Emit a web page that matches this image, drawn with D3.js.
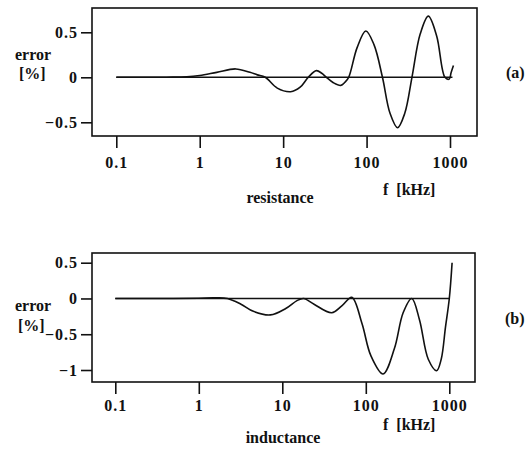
<!DOCTYPE html>
<html>
<head>
<meta charset="utf-8">
<script src="https://cdn.jsdelivr.net/npm/d3@7"></script>
<style>
  body { margin: 0; background: #fff; }
</style>
</head>
<body>
<svg id="chart" width="527" height="456"></svg>
<script>
// frequency ticks (kHz)
let freqTicks = [0.1, 1, 10, 100, 1000]

// resistance error [%] vs f [kHz]
let resFreq = [0.1, 0.4, 0.7, 1, 1.6, 2.7, 4, 4.9, 6.1, 8.5, 12.3, 16, 20, 25, 29, 33, 40, 49, 55, 61,
    77, 98, 123, 155, 191, 235, 287, 350, 439, 550, 692, 870, 980, 1030, 1100]
let resErr = [0, 0.001, 0.005, 0.02, 0.055, 0.093, 0.055, 0.027, 0, -0.12, -0.16, -0.11, 0, 0.074, 0.045, 0, -0.06, -0.09, -0.055, 0,
    0.33, 0.515, 0.36, 0, -0.4, -0.56, -0.4, 0, 0.48, 0.68, 0.46, 0.0, -0.02, 0.05, 0.13]
let resTicks = [0.5, 0, -0.5]
let resZero = [0.1, 1070]

// inductance error [%] vs f [kHz]
let indFreq = [0.1, 0.5, 1, 1.5, 2.2, 3.2, 4.5, 7.2, 11, 15, 18, 24, 39, 52, 68,
    90, 115, 161, 220, 280, 355, 440, 560, 705, 800, 900, 1000, 1080]
let indErr = [0, 0, 0.003, 0.008, 0, -0.08, -0.18, -0.23, -0.14, -0.03, 0, -0.08, -0.2, -0.1, 0.015,
    -0.35, -0.8, -1.055, -0.7, -0.2, 0, -0.3, -0.85, -1.01, -0.85, -0.4, 0, 0.5]
let indTicks = [0.5, 0, -0.5, -1]
let indZero = [0.1, 1000]

let FONT = '"Liberation Serif", "Times New Roman", serif'

let svg = d3.select('#chart')
    .attr('font-family', FONT)
    .attr('font-weight', 'bold')

function draw_panel(opts){

    let x = d3.scaleLog().domain([0.1, 1000]).range(opts.xRange)
    let y = d3.scaleLinear().domain(opts.yDomain).range(opts.yRange)

    let g = svg.append('g')

    // FRAME
    g.append('rect')
        .attr('x', opts.frame[0])
        .attr('y', opts.frame[1])
        .attr('width', opts.frame[2] - opts.frame[0])
        .attr('height', opts.frame[3] - opts.frame[1])
        .attr('fill', 'none')
        .attr('stroke', '#111')
        .attr('stroke-width', 1.6)

    // Y AXIS TICKS
    let yAxis = g.append('g')
        .attr('transform', `translate(${opts.frame[0]},0)`)
        .call(d3.axisLeft(y).tickValues(opts.yTicks).tickSize(11).tickSizeOuter(0).tickPadding(3)
            .tickFormat(d => d3.format('')(d)))
    yAxis.attr('font-family', FONT).attr('font-size', 16)
    yAxis.select('.domain').remove()
    yAxis.selectAll('line').attr('stroke', '#111').attr('stroke-width', 1.6)
    yAxis.selectAll('text').attr('fill', '#111').attr('letter-spacing', 1)

    // X AXIS TICKS
    let xAxis = g.append('g')
        .attr('transform', `translate(0,${opts.frame[3]})`)
        .call(d3.axisBottom(x).tickValues(freqTicks).tickSize(12).tickSizeOuter(0).tickPadding(opts.xPad)
            .tickFormat(d => d3.format('')(d)))
    xAxis.attr('font-family', FONT).attr('font-size', 16)
    xAxis.select('.domain').remove()
    xAxis.selectAll('line').attr('stroke', '#111').attr('stroke-width', 1.6)
    xAxis.selectAll('text').attr('fill', '#111').attr('letter-spacing', 1)

    // ZERO LINE
    g.append('line')
        .attr('x1', x(opts.zero[0]))
        .attr('x2', x(opts.zero[1]))
        .attr('y1', y(0))
        .attr('y2', y(0))
        .attr('stroke', '#111')
        .attr('stroke-width', 1.6)

    // ERROR CURVE
    let points = opts.freq.map((f, i) => [f, opts.err[i]])
    g.append('path')
        .datum(points)
        .attr('fill', 'none')
        .attr('stroke', '#111')
        .attr('stroke-width', 1.6)
        .attr('d', d3.line().x(d => x(d[0])).y(d => y(d[1])).curve(d3.curveCatmullRom.alpha(0.5)))

    // LABELS
    let labels = g.append('g').attr('font-size', 16).attr('fill', '#111')
    labels.append('text').attr('x', opts.errorPos[0]).attr('y', opts.errorPos[1]).text('error')
    labels.append('text').attr('x', opts.pctPos[0]).attr('y', opts.pctPos[1]).text('[%]')
    labels.append('text').attr('x', opts.fPos[0]).attr('y', opts.fPos[1])
        .style('white-space', 'pre').text('f  [kHz]')
    labels.append('text').attr('x', opts.namePos[0]).attr('y', opts.namePos[1])
        .attr('text-anchor', 'middle').text(opts.name)
    labels.append('text').attr('x', opts.tagPos[0]).attr('y', opts.tagPos[1]).text(opts.tag)
}

draw_panel({
    xRange: [116.3, 450], yDomain: [-0.5, 0.5], yRange: [122.3, 32.3],
    frame: [92, 8, 477, 136], yTicks: resTicks, xPad: 9,
    freq: resFreq, err: resErr, zero: resZero,
    errorPos: [15, 60], pctPos: [19, 79], fPos: [383, 195],
    namePos: [280, 203], name: 'resistance', tagPos: [506, 78], tag: '(a)'
})

draw_panel({
    xRange: [115.3, 449.3], yDomain: [-1, 0.5], yRange: [370, 262.7],
    frame: [92, 253, 475, 382], yTicks: indTicks, xPad: 6,
    freq: indFreq, err: indErr, zero: indZero,
    errorPos: [15, 311], pctPos: [18, 331], fPos: [383, 430],
    namePos: [283, 443], name: 'inductance', tagPos: [505, 324], tag: '(b)'
})
</script>
</body>
</html>
